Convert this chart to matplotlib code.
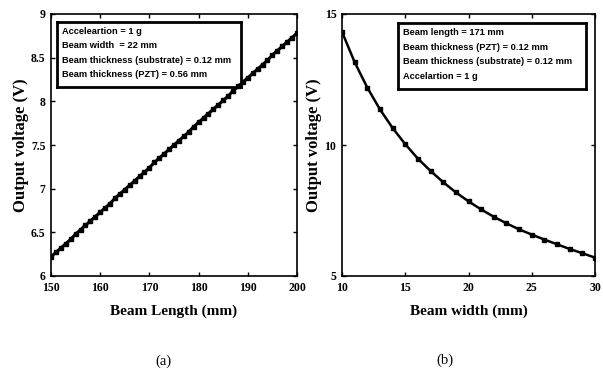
import matplotlib.pyplot as plt

# (a) output voltage vs beam length
beam_length = list(range(150, 201))
volt_a = [6.22, 6.27, 6.32, 6.37, 6.42, 6.48, 6.53, 6.58, 6.63, 6.68,
          6.73, 6.78, 6.83, 6.89, 6.94, 6.99, 7.04, 7.09, 7.14, 7.19,
          7.24, 7.30, 7.35, 7.40, 7.45, 7.50, 7.55, 7.60, 7.65, 7.71,
          7.76, 7.81, 7.86, 7.91, 7.96, 8.01, 8.06, 8.12, 8.17, 8.22,
          8.27, 8.32, 8.37, 8.42, 8.47, 8.53, 8.58, 8.63, 8.68, 8.73, 8.78]

# (b) output voltage vs beam width
beam_width = list(range(10, 31))
volt_b = [14.32, 13.16, 12.19, 11.36, 10.65, 10.03, 9.48, 9.01, 8.58, 8.19,
          7.85, 7.54, 7.26, 7.01, 6.78, 6.58, 6.39, 6.21, 6.03, 5.87, 5.70]

box_a = ["Acceleartion = 1 g", "Beam width  = 22 mm",
         "Beam thickness (substrate) = 0.12 mm", "Beam thickness (PZT) = 0.56 mm"]
box_b = ["Beam length = 171 mm", "Beam thickness (PZT) = 0.12 mm",
         "Beam thickness (substrate) = 0.12 mm", "Accelartion = 1 g"]

W, H = 603, 374
fig = plt.figure(figsize=(W / 100, H / 100), dpi=100)
serif = "Liberation Serif"
sans = "Liberation Sans"


def make_axes(l, r, t, b):
    return fig.add_axes([l / W, 1 - b / H, (r - l) / W, (b - t) / H])


def style(ax):
    ax.tick_params(direction="in", top=True, right=True, length=3, width=1, pad=4)
    for lab in ax.get_xticklabels() + ax.get_yticklabels():
        lab.set_fontfamily(serif)
        lab.set_fontweight("bold")
        lab.set_fontsize(8.5)
    for s in ax.spines.values():
        s.set_linewidth(1.2)


def info_box(ax, lines, l, r, t, b):
    box = fig.add_axes([l / W, 1 - b / H, (r - l) / W, (b - t) / H])
    box.set_xticks([])
    box.set_yticks([])
    box.patch.set_alpha(0)
    for s in box.spines.values():
        s.set_linewidth(2)
    for i, txt in enumerate(lines):
        box.text(0.025, 0.86 - i * 0.225, txt, transform=box.transAxes,
                 fontfamily=sans, fontweight="bold", fontsize=6.7, va="center")


ax1 = make_axes(51, 297, 14, 276)
ax1.plot(beam_length, volt_a, color="black", lw=2.2, marker="s", ms=2.6)
ax1.set_xlim(150, 200)
ax1.set_ylim(6, 9)
ax1.set_xticks([150, 160, 170, 180, 190, 200])
ax1.set_yticks([6, 6.5, 7, 7.5, 8, 8.5, 9])
ax1.set_yticklabels(["6", "6.5", "7", "7.5", "8", "8.5", "9"])
style(ax1)
ax1.set_xlabel("Beam Length (mm)", fontfamily=serif, fontweight="bold", fontsize=11)
ax1.set_ylabel("Output voltage (V)", fontfamily=serif, fontweight="bold", fontsize=12)
ax1.xaxis.set_label_coords(0.5, -0.11)
ax1.yaxis.set_label_coords(-0.089, 0.5)
info_box(ax1, box_a, 57, 241, 22, 87)

ax2 = make_axes(342, 595, 14, 276)
ax2.plot(beam_width, volt_b, color="black", lw=1.8, marker="s", ms=2.2)
ax2.set_xlim(10, 30)
ax2.set_ylim(5, 15)
ax2.set_xticks([10, 15, 20, 25, 30])
ax2.set_yticks([5, 10, 15])
style(ax2)
ax2.set_xlabel("Beam width (mm)", fontfamily=serif, fontweight="bold", fontsize=11)
ax2.set_ylabel("Output voltage (V)", fontfamily=serif, fontweight="bold", fontsize=12)
ax2.xaxis.set_label_coords(0.5, -0.11)
ax2.yaxis.set_label_coords(-0.079, 0.5)
info_box(ax2, box_b, 398, 586, 23, 89)

fig.text(163 / W, 1 - 361 / H, "(a)", fontfamily=serif, fontsize=10.5, ha="center", va="center")
fig.text(445 / W, 1 - 360 / H, "(b)", fontfamily=serif, fontsize=10.5, ha="center", va="center")

fig.savefig("out.png", dpi=100)
